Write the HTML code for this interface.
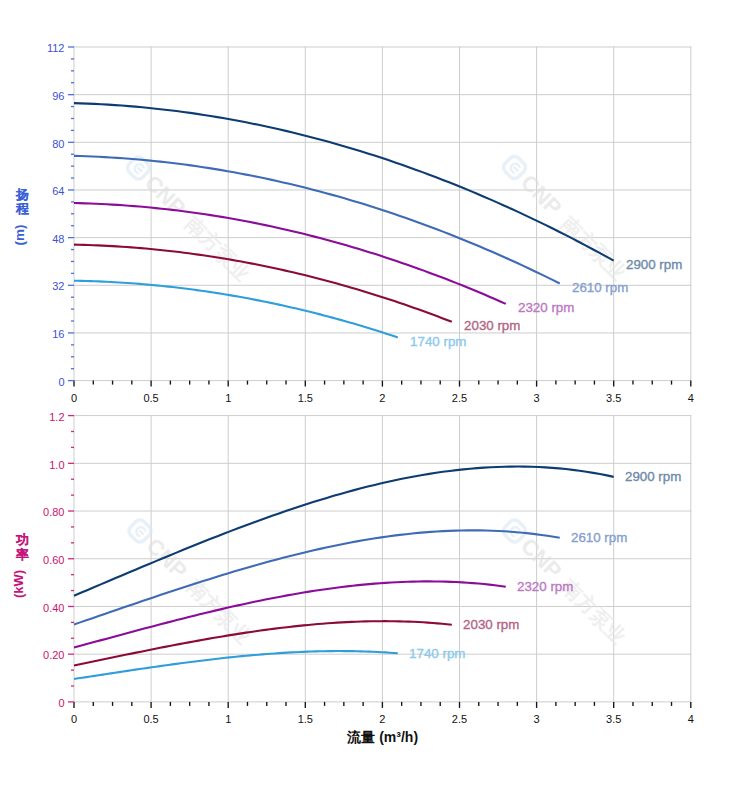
<!DOCTYPE html><html><head><meta charset="utf-8"><style>html,body{margin:0;padding:0;background:#fff;width:752px;height:797px;overflow:hidden}svg{display:block}text{font-family:"Liberation Sans",sans-serif}.lb{font-size:13.33px;stroke-width:0.35px}</style></head><body>
<svg width="752" height="797" viewBox="0 0 752 797">
<rect width="752" height="797" fill="#fff"/>
<g stroke="#cdcdcd" stroke-width="1"><line x1="74.00" y1="46.50" x2="74.00" y2="381.10"/><line x1="151.10" y1="46.50" x2="151.10" y2="381.10"/><line x1="228.20" y1="46.50" x2="228.20" y2="381.10"/><line x1="305.30" y1="46.50" x2="305.30" y2="381.10"/><line x1="382.40" y1="46.50" x2="382.40" y2="381.10"/><line x1="459.50" y1="46.50" x2="459.50" y2="381.10"/><line x1="536.60" y1="46.50" x2="536.60" y2="381.10"/><line x1="613.70" y1="46.50" x2="613.70" y2="381.10"/><line x1="690.80" y1="46.50" x2="690.80" y2="381.10"/><line x1="73.50" y1="380.60" x2="691.30" y2="380.60"/><line x1="73.50" y1="332.94" x2="691.30" y2="332.94"/><line x1="73.50" y1="285.29" x2="691.30" y2="285.29"/><line x1="73.50" y1="237.63" x2="691.30" y2="237.63"/><line x1="73.50" y1="189.97" x2="691.30" y2="189.97"/><line x1="73.50" y1="142.31" x2="691.30" y2="142.31"/><line x1="73.50" y1="94.66" x2="691.30" y2="94.66"/><line x1="73.50" y1="47.00" x2="691.30" y2="47.00"/><line x1="74.00" y1="415.10" x2="74.00" y2="702.40"/><line x1="151.10" y1="415.10" x2="151.10" y2="702.40"/><line x1="228.20" y1="415.10" x2="228.20" y2="702.40"/><line x1="305.30" y1="415.10" x2="305.30" y2="702.40"/><line x1="382.40" y1="415.10" x2="382.40" y2="702.40"/><line x1="459.50" y1="415.10" x2="459.50" y2="702.40"/><line x1="536.60" y1="415.10" x2="536.60" y2="702.40"/><line x1="613.70" y1="415.10" x2="613.70" y2="702.40"/><line x1="690.80" y1="415.10" x2="690.80" y2="702.40"/><line x1="73.50" y1="701.90" x2="691.30" y2="701.90"/><line x1="73.50" y1="654.18" x2="691.30" y2="654.18"/><line x1="73.50" y1="606.47" x2="691.30" y2="606.47"/><line x1="73.50" y1="558.75" x2="691.30" y2="558.75"/><line x1="73.50" y1="511.03" x2="691.30" y2="511.03"/><line x1="73.50" y1="463.32" x2="691.30" y2="463.32"/><line x1="73.50" y1="415.60" x2="691.30" y2="415.60"/></g>
<g transform="translate(138.5 168.0) rotate(45)" opacity="0.6"><rect x="-9.5" y="-9.5" width="19" height="19" rx="6" fill="none" stroke="#dae7f5" stroke-width="3.5"/><path d="M4 -3.5 A4.5 4.5 0 1 0 4 3.5 M-1 0 H5" fill="none" stroke="#dae7f5" stroke-width="2.5"/><text x="15" y="8" font-size="22" font-weight="bold" fill="#dedede">CNP</text><text x="73" y="8" font-size="20" font-weight="bold" fill="#e6e6e6">南方泵业</text></g>
<g transform="translate(514.5 167.5) rotate(45)" opacity="0.6"><rect x="-9.5" y="-9.5" width="19" height="19" rx="6" fill="none" stroke="#dae7f5" stroke-width="3.5"/><path d="M4 -3.5 A4.5 4.5 0 1 0 4 3.5 M-1 0 H5" fill="none" stroke="#dae7f5" stroke-width="2.5"/><text x="15" y="8" font-size="22" font-weight="bold" fill="#dedede">CNP</text><text x="73" y="8" font-size="20" font-weight="bold" fill="#e6e6e6">南方泵业</text></g>
<g transform="translate(140.0 531.0) rotate(45)" opacity="0.6"><rect x="-9.5" y="-9.5" width="19" height="19" rx="6" fill="none" stroke="#dae7f5" stroke-width="3.5"/><path d="M4 -3.5 A4.5 4.5 0 1 0 4 3.5 M-1 0 H5" fill="none" stroke="#dae7f5" stroke-width="2.5"/><text x="15" y="8" font-size="22" font-weight="bold" fill="#dedede">CNP</text><text x="73" y="8" font-size="20" font-weight="bold" fill="#e6e6e6">南方泵业</text></g>
<g transform="translate(514.5 531.0) rotate(45)" opacity="0.6"><rect x="-9.5" y="-9.5" width="19" height="19" rx="6" fill="none" stroke="#dae7f5" stroke-width="3.5"/><path d="M4 -3.5 A4.5 4.5 0 1 0 4 3.5 M-1 0 H5" fill="none" stroke="#dae7f5" stroke-width="2.5"/><text x="15" y="8" font-size="22" font-weight="bold" fill="#dedede">CNP</text><text x="73" y="8" font-size="20" font-weight="bold" fill="#e6e6e6">南方泵业</text></g>
<g stroke="#141414" stroke-width="1.35"><line x1="74.00" y1="380.60" x2="74.00" y2="386.60"/><line x1="93.28" y1="380.60" x2="93.28" y2="384.60"/><line x1="112.55" y1="380.60" x2="112.55" y2="384.60"/><line x1="131.82" y1="380.60" x2="131.82" y2="384.60"/><line x1="151.10" y1="380.60" x2="151.10" y2="386.60"/><line x1="170.38" y1="380.60" x2="170.38" y2="384.60"/><line x1="189.65" y1="380.60" x2="189.65" y2="384.60"/><line x1="208.92" y1="380.60" x2="208.92" y2="384.60"/><line x1="228.20" y1="380.60" x2="228.20" y2="386.60"/><line x1="247.47" y1="380.60" x2="247.47" y2="384.60"/><line x1="266.75" y1="380.60" x2="266.75" y2="384.60"/><line x1="286.02" y1="380.60" x2="286.02" y2="384.60"/><line x1="305.30" y1="380.60" x2="305.30" y2="386.60"/><line x1="324.57" y1="380.60" x2="324.57" y2="384.60"/><line x1="343.85" y1="380.60" x2="343.85" y2="384.60"/><line x1="363.12" y1="380.60" x2="363.12" y2="384.60"/><line x1="382.40" y1="380.60" x2="382.40" y2="386.60"/><line x1="401.67" y1="380.60" x2="401.67" y2="384.60"/><line x1="420.95" y1="380.60" x2="420.95" y2="384.60"/><line x1="440.22" y1="380.60" x2="440.22" y2="384.60"/><line x1="459.50" y1="380.60" x2="459.50" y2="386.60"/><line x1="478.77" y1="380.60" x2="478.77" y2="384.60"/><line x1="498.05" y1="380.60" x2="498.05" y2="384.60"/><line x1="517.33" y1="380.60" x2="517.33" y2="384.60"/><line x1="536.60" y1="380.60" x2="536.60" y2="386.60"/><line x1="555.88" y1="380.60" x2="555.88" y2="384.60"/><line x1="575.15" y1="380.60" x2="575.15" y2="384.60"/><line x1="594.42" y1="380.60" x2="594.42" y2="384.60"/><line x1="613.70" y1="380.60" x2="613.70" y2="386.60"/><line x1="632.97" y1="380.60" x2="632.97" y2="384.60"/><line x1="652.25" y1="380.60" x2="652.25" y2="384.60"/><line x1="671.52" y1="380.60" x2="671.52" y2="384.60"/><line x1="690.80" y1="380.60" x2="690.80" y2="386.60"/><line x1="74.00" y1="701.90" x2="74.00" y2="707.90"/><line x1="93.28" y1="701.90" x2="93.28" y2="705.90"/><line x1="112.55" y1="701.90" x2="112.55" y2="705.90"/><line x1="131.82" y1="701.90" x2="131.82" y2="705.90"/><line x1="151.10" y1="701.90" x2="151.10" y2="707.90"/><line x1="170.38" y1="701.90" x2="170.38" y2="705.90"/><line x1="189.65" y1="701.90" x2="189.65" y2="705.90"/><line x1="208.92" y1="701.90" x2="208.92" y2="705.90"/><line x1="228.20" y1="701.90" x2="228.20" y2="707.90"/><line x1="247.47" y1="701.90" x2="247.47" y2="705.90"/><line x1="266.75" y1="701.90" x2="266.75" y2="705.90"/><line x1="286.02" y1="701.90" x2="286.02" y2="705.90"/><line x1="305.30" y1="701.90" x2="305.30" y2="707.90"/><line x1="324.57" y1="701.90" x2="324.57" y2="705.90"/><line x1="343.85" y1="701.90" x2="343.85" y2="705.90"/><line x1="363.12" y1="701.90" x2="363.12" y2="705.90"/><line x1="382.40" y1="701.90" x2="382.40" y2="707.90"/><line x1="401.67" y1="701.90" x2="401.67" y2="705.90"/><line x1="420.95" y1="701.90" x2="420.95" y2="705.90"/><line x1="440.22" y1="701.90" x2="440.22" y2="705.90"/><line x1="459.50" y1="701.90" x2="459.50" y2="707.90"/><line x1="478.77" y1="701.90" x2="478.77" y2="705.90"/><line x1="498.05" y1="701.90" x2="498.05" y2="705.90"/><line x1="517.33" y1="701.90" x2="517.33" y2="705.90"/><line x1="536.60" y1="701.90" x2="536.60" y2="707.90"/><line x1="555.88" y1="701.90" x2="555.88" y2="705.90"/><line x1="575.15" y1="701.90" x2="575.15" y2="705.90"/><line x1="594.42" y1="701.90" x2="594.42" y2="705.90"/><line x1="613.70" y1="701.90" x2="613.70" y2="707.90"/><line x1="632.97" y1="701.90" x2="632.97" y2="705.90"/><line x1="652.25" y1="701.90" x2="652.25" y2="705.90"/><line x1="671.52" y1="701.90" x2="671.52" y2="705.90"/><line x1="690.80" y1="701.90" x2="690.80" y2="707.90"/></g>
<g stroke="#4d6fe0" stroke-width="1.3"><line x1="68.00" y1="380.60" x2="74.00" y2="380.60"/><line x1="71.00" y1="368.69" x2="74.00" y2="368.69"/><line x1="71.00" y1="356.77" x2="74.00" y2="356.77"/><line x1="71.00" y1="344.86" x2="74.00" y2="344.86"/><line x1="68.00" y1="332.94" x2="74.00" y2="332.94"/><line x1="71.00" y1="321.03" x2="74.00" y2="321.03"/><line x1="71.00" y1="309.11" x2="74.00" y2="309.11"/><line x1="71.00" y1="297.20" x2="74.00" y2="297.20"/><line x1="68.00" y1="285.29" x2="74.00" y2="285.29"/><line x1="71.00" y1="273.37" x2="74.00" y2="273.37"/><line x1="71.00" y1="261.46" x2="74.00" y2="261.46"/><line x1="71.00" y1="249.54" x2="74.00" y2="249.54"/><line x1="68.00" y1="237.63" x2="74.00" y2="237.63"/><line x1="71.00" y1="225.71" x2="74.00" y2="225.71"/><line x1="71.00" y1="213.80" x2="74.00" y2="213.80"/><line x1="71.00" y1="201.89" x2="74.00" y2="201.89"/><line x1="68.00" y1="189.97" x2="74.00" y2="189.97"/><line x1="71.00" y1="178.06" x2="74.00" y2="178.06"/><line x1="71.00" y1="166.14" x2="74.00" y2="166.14"/><line x1="71.00" y1="154.23" x2="74.00" y2="154.23"/><line x1="68.00" y1="142.31" x2="74.00" y2="142.31"/><line x1="71.00" y1="130.40" x2="74.00" y2="130.40"/><line x1="71.00" y1="118.49" x2="74.00" y2="118.49"/><line x1="71.00" y1="106.57" x2="74.00" y2="106.57"/><line x1="68.00" y1="94.66" x2="74.00" y2="94.66"/><line x1="71.00" y1="82.74" x2="74.00" y2="82.74"/><line x1="71.00" y1="70.83" x2="74.00" y2="70.83"/><line x1="71.00" y1="58.91" x2="74.00" y2="58.91"/><line x1="68.00" y1="47.00" x2="74.00" y2="47.00"/></g>
<g stroke="#d0287e" stroke-width="1.3"><line x1="68.00" y1="701.90" x2="74.00" y2="701.90"/><line x1="71.00" y1="685.99" x2="74.00" y2="685.99"/><line x1="71.00" y1="670.09" x2="74.00" y2="670.09"/><line x1="68.00" y1="654.18" x2="74.00" y2="654.18"/><line x1="71.00" y1="638.28" x2="74.00" y2="638.28"/><line x1="71.00" y1="622.37" x2="74.00" y2="622.37"/><line x1="68.00" y1="606.47" x2="74.00" y2="606.47"/><line x1="71.00" y1="590.56" x2="74.00" y2="590.56"/><line x1="71.00" y1="574.66" x2="74.00" y2="574.66"/><line x1="68.00" y1="558.75" x2="74.00" y2="558.75"/><line x1="71.00" y1="542.84" x2="74.00" y2="542.84"/><line x1="71.00" y1="526.94" x2="74.00" y2="526.94"/><line x1="68.00" y1="511.03" x2="74.00" y2="511.03"/><line x1="71.00" y1="495.13" x2="74.00" y2="495.13"/><line x1="71.00" y1="479.22" x2="74.00" y2="479.22"/><line x1="68.00" y1="463.32" x2="74.00" y2="463.32"/><line x1="71.00" y1="447.41" x2="74.00" y2="447.41"/><line x1="71.00" y1="431.51" x2="74.00" y2="431.51"/><line x1="68.00" y1="415.60" x2="74.00" y2="415.60"/></g>
<g font-size="11" fill="#111"><text x="74.00" y="402.00" text-anchor="middle">0</text><text x="151.10" y="402.00" text-anchor="middle">0.5</text><text x="228.20" y="402.00" text-anchor="middle">1</text><text x="305.30" y="402.00" text-anchor="middle">1.5</text><text x="382.40" y="402.00" text-anchor="middle">2</text><text x="459.50" y="402.00" text-anchor="middle">2.5</text><text x="536.60" y="402.00" text-anchor="middle">3</text><text x="613.70" y="402.00" text-anchor="middle">3.5</text><text x="690.80" y="402.00" text-anchor="middle">4</text><text x="74.00" y="723.30" text-anchor="middle">0</text><text x="151.10" y="723.30" text-anchor="middle">0.5</text><text x="228.20" y="723.30" text-anchor="middle">1</text><text x="305.30" y="723.30" text-anchor="middle">1.5</text><text x="382.40" y="723.30" text-anchor="middle">2</text><text x="459.50" y="723.30" text-anchor="middle">2.5</text><text x="536.60" y="723.30" text-anchor="middle">3</text><text x="613.70" y="723.30" text-anchor="middle">3.5</text><text x="690.80" y="723.30" text-anchor="middle">4</text></g>
<g font-size="11" fill="#3c52d2"><text x="64.5" y="385.80" text-anchor="end">0</text><text x="64.5" y="338.14" text-anchor="end">16</text><text x="64.5" y="290.49" text-anchor="end">32</text><text x="64.5" y="242.83" text-anchor="end">48</text><text x="64.5" y="195.17" text-anchor="end">64</text><text x="64.5" y="147.51" text-anchor="end">80</text><text x="64.5" y="99.86" text-anchor="end">96</text><text x="64.5" y="52.20" text-anchor="end">112</text></g>
<g font-size="11" fill="#c8146c"><text x="64.5" y="707.10" text-anchor="end">0</text><text x="64.5" y="659.38" text-anchor="end">0.20</text><text x="64.5" y="611.67" text-anchor="end">0.40</text><text x="64.5" y="563.95" text-anchor="end">0.60</text><text x="64.5" y="516.23" text-anchor="end">0.80</text><text x="64.5" y="468.52" text-anchor="end">1.0</text><text x="64.5" y="420.80" text-anchor="end">1.2</text></g>
<path d="M74.00 103.16 L80.83 103.37 L87.66 103.62 L94.49 103.92 L101.33 104.26 L108.16 104.65 L114.99 105.09 L121.82 105.57 L128.65 106.10 L135.48 106.67 L142.32 107.29 L149.15 107.96 L155.98 108.67 L162.81 109.43 L169.64 110.23 L176.47 111.08 L183.31 111.97 L190.14 112.91 L196.97 113.90 L203.80 114.93 L210.63 116.01 L217.46 117.13 L224.30 118.30 L231.13 119.51 L237.96 120.78 L244.79 122.08 L251.62 123.43 L258.45 124.83 L265.29 126.28 L272.12 127.77 L278.95 129.30 L285.78 130.88 L292.61 132.51 L299.44 134.18 L306.28 135.90 L313.11 137.67 L319.94 139.48 L326.77 141.33 L333.60 143.24 L340.43 145.19 L347.27 147.18 L354.10 149.22 L360.93 151.30 L367.76 153.44 L374.59 155.61 L381.42 157.83 L388.26 160.10 L395.09 162.42 L401.92 164.78 L408.75 167.18 L415.58 169.64 L422.41 172.13 L429.25 174.68 L436.08 177.27 L442.91 179.90 L449.74 182.58 L456.57 185.31 L463.40 188.08 L470.24 190.90 L477.07 193.76 L483.90 196.67 L490.73 199.63 L497.56 202.63 L504.39 205.68 L511.23 208.77 L518.06 211.91 L524.89 215.10 L531.72 218.33 L538.55 221.60 L545.38 224.93 L552.22 228.29 L559.05 231.71 L565.88 235.17 L572.71 238.67 L579.54 242.23 L586.37 245.82 L593.21 249.47 L600.04 253.15 L606.87 256.89 L613.70 260.67" fill="none" stroke="#0c3c72" stroke-width="2.1" stroke-linejoin="round"/>
<text x="626.00" y="268.87" class="lb" fill="#6d8aa9" stroke="#6d8aa9">2900 rpm</text>
<path d="M74.00 155.87 L80.15 156.04 L86.30 156.25 L92.45 156.49 L98.59 156.77 L104.74 157.08 L110.89 157.44 L117.04 157.83 L123.19 158.25 L129.34 158.72 L135.48 159.22 L141.63 159.76 L147.78 160.34 L153.93 160.95 L160.08 161.60 L166.23 162.29 L172.38 163.01 L178.52 163.77 L184.67 164.57 L190.82 165.41 L196.97 166.28 L203.12 167.19 L209.27 168.14 L215.42 169.12 L221.56 170.14 L227.71 171.20 L233.86 172.30 L240.01 173.43 L246.16 174.60 L252.31 175.81 L258.45 177.05 L264.60 178.33 L270.75 179.65 L276.90 181.00 L283.05 182.40 L289.20 183.83 L295.35 185.29 L301.49 186.80 L307.64 188.34 L313.79 189.91 L319.94 191.53 L326.09 193.18 L332.24 194.87 L338.38 196.60 L344.53 198.36 L350.68 200.16 L356.83 202.00 L362.98 203.87 L369.13 205.78 L375.28 207.73 L381.42 209.72 L387.57 211.74 L393.72 213.80 L399.87 215.90 L406.02 218.03 L412.17 220.21 L418.31 222.41 L424.46 224.66 L430.61 226.94 L436.76 229.26 L442.91 231.62 L449.06 234.01 L455.21 236.45 L461.35 238.91 L467.50 241.42 L473.65 243.96 L479.80 246.54 L485.95 249.16 L492.10 251.81 L498.25 254.50 L504.39 257.23 L510.54 260.00 L516.69 262.80 L522.84 265.64 L528.99 268.52 L535.14 271.43 L541.28 274.38 L547.43 277.37 L553.58 280.39 L559.73 283.46" fill="none" stroke="#3f6bb6" stroke-width="2.1" stroke-linejoin="round"/>
<text x="572.03" y="291.66" class="lb" fill="#84a0cf" stroke="#84a0cf">2610 rpm</text>
<path d="M74.00 203.04 L79.47 203.17 L84.93 203.33 L90.40 203.52 L95.86 203.74 L101.33 203.99 L106.79 204.27 L112.26 204.58 L117.72 204.92 L123.19 205.29 L128.65 205.68 L134.12 206.11 L139.58 206.56 L145.05 207.05 L150.51 207.56 L155.98 208.11 L161.45 208.68 L166.91 209.28 L172.38 209.91 L177.84 210.57 L183.31 211.26 L188.77 211.98 L194.24 212.73 L199.70 213.51 L205.17 214.31 L210.63 215.15 L216.10 216.01 L221.56 216.91 L227.03 217.83 L232.49 218.79 L237.96 219.77 L243.42 220.78 L248.89 221.82 L254.36 222.89 L259.82 223.99 L265.29 225.12 L270.75 226.28 L276.22 227.47 L281.68 228.69 L287.15 229.93 L292.61 231.21 L298.08 232.52 L303.54 233.85 L309.01 235.21 L314.47 236.61 L319.94 238.03 L325.40 239.48 L330.87 240.96 L336.34 242.47 L341.80 244.01 L347.27 245.58 L352.73 247.18 L358.20 248.81 L363.66 250.47 L369.13 252.15 L374.59 253.87 L380.06 255.61 L385.52 257.39 L390.99 259.19 L396.45 261.03 L401.92 262.89 L407.38 264.78 L412.85 266.70 L418.31 268.65 L423.78 270.63 L429.25 272.64 L434.71 274.68 L440.18 276.75 L445.64 278.84 L451.11 280.97 L456.57 283.12 L462.04 285.31 L467.50 287.52 L472.97 289.77 L478.43 292.04 L483.90 294.34 L489.36 296.67 L494.83 299.03 L500.29 301.42 L505.76 303.84" fill="none" stroke="#8b0c99" stroke-width="2.1" stroke-linejoin="round"/>
<text x="518.06" y="312.04" class="lb" fill="#bb78c4" stroke="#bb78c4">2320 rpm</text>
<path d="M74.00 244.65 L78.78 244.76 L83.56 244.88 L88.35 245.03 L93.13 245.19 L97.91 245.39 L102.69 245.60 L107.48 245.84 L112.26 246.09 L117.04 246.38 L121.82 246.68 L126.60 247.01 L131.39 247.35 L136.17 247.72 L140.95 248.12 L145.73 248.53 L150.51 248.97 L155.30 249.43 L160.08 249.92 L164.86 250.42 L169.64 250.95 L174.43 251.50 L179.21 252.07 L183.99 252.67 L188.77 253.29 L193.55 253.93 L198.34 254.59 L203.12 255.27 L207.90 255.98 L212.68 256.71 L217.46 257.46 L222.25 258.24 L227.03 259.04 L231.81 259.86 L236.59 260.70 L241.38 261.56 L246.16 262.45 L250.94 263.36 L255.72 264.29 L260.50 265.25 L265.29 266.22 L270.07 267.22 L274.85 268.24 L279.63 269.29 L284.41 270.36 L289.20 271.45 L293.98 272.56 L298.76 273.69 L303.54 274.85 L308.33 276.03 L313.11 277.23 L317.89 278.45 L322.67 279.70 L327.45 280.97 L332.24 282.26 L337.02 283.57 L341.80 284.91 L346.58 286.27 L351.36 287.65 L356.15 289.05 L360.93 290.48 L365.71 291.93 L370.49 293.40 L375.28 294.89 L380.06 296.40 L384.84 297.94 L389.62 299.50 L394.40 301.09 L399.19 302.69 L403.97 304.32 L408.75 305.97 L413.53 307.64 L418.31 309.34 L423.10 311.06 L427.88 312.80 L432.66 314.56 L437.44 316.34 L442.23 318.15 L447.01 319.98 L451.79 321.83" fill="none" stroke="#8c0a3a" stroke-width="2.1" stroke-linejoin="round"/>
<text x="464.09" y="330.03" class="lb" fill="#b26585" stroke="#b26585">2030 rpm</text>
<path d="M74.00 280.72 L78.10 280.80 L82.20 280.89 L86.30 280.99 L90.40 281.12 L94.49 281.26 L98.59 281.42 L102.69 281.59 L106.79 281.78 L110.89 281.99 L114.99 282.21 L119.09 282.45 L123.19 282.70 L127.29 282.98 L131.39 283.27 L135.48 283.57 L139.58 283.89 L143.68 284.23 L147.78 284.59 L151.88 284.96 L155.98 285.35 L160.08 285.75 L164.18 286.17 L168.28 286.61 L172.38 287.06 L176.47 287.53 L180.57 288.02 L184.67 288.52 L188.77 289.04 L192.87 289.58 L196.97 290.13 L201.07 290.70 L205.17 291.29 L209.27 291.89 L213.37 292.51 L217.46 293.14 L221.56 293.80 L225.66 294.46 L229.76 295.15 L233.86 295.85 L237.96 296.57 L242.06 297.30 L246.16 298.05 L250.26 298.82 L254.36 299.60 L258.45 300.40 L262.55 301.22 L266.65 302.05 L270.75 302.90 L274.85 303.77 L278.95 304.65 L283.05 305.55 L287.15 306.47 L291.25 307.40 L295.35 308.35 L299.44 309.31 L303.54 310.30 L307.64 311.29 L311.74 312.31 L315.84 313.34 L319.94 314.39 L324.04 315.45 L328.14 316.53 L332.24 317.63 L336.34 318.74 L340.43 319.87 L344.53 321.02 L348.63 322.18 L352.73 323.36 L356.83 324.56 L360.93 325.77 L365.03 327.00 L369.13 328.24 L373.23 329.51 L377.33 330.79 L381.42 332.08 L385.52 333.39 L389.62 334.72 L393.72 336.06 L397.82 337.42" fill="none" stroke="#2f9edb" stroke-width="2.1" stroke-linejoin="round"/>
<text x="410.12" y="345.62" class="lb" fill="#8dc9ec" stroke="#8dc9ec">1740 rpm</text>
<path d="M74.00 595.68 L80.83 592.80 L87.66 589.91 L94.49 587.02 L101.33 584.13 L108.16 581.23 L114.99 578.34 L121.82 575.45 L128.65 572.56 L135.48 569.68 L142.32 566.81 L149.15 563.95 L155.98 561.10 L162.81 558.26 L169.64 555.43 L176.47 552.62 L183.31 549.83 L190.14 547.05 L196.97 544.30 L203.80 541.56 L210.63 538.85 L217.46 536.17 L224.30 533.51 L231.13 530.88 L237.96 528.28 L244.79 525.71 L251.62 523.17 L258.45 520.67 L265.29 518.21 L272.12 515.78 L278.95 513.39 L285.78 511.04 L292.61 508.73 L299.44 506.47 L306.28 504.25 L313.11 502.08 L319.94 499.95 L326.77 497.88 L333.60 495.86 L340.43 493.89 L347.27 491.98 L354.10 490.12 L360.93 488.32 L367.76 486.58 L374.59 484.91 L381.42 483.29 L388.26 481.74 L395.09 480.25 L401.92 478.83 L408.75 477.48 L415.58 476.21 L422.41 475.00 L429.25 473.87 L436.08 472.81 L442.91 471.83 L449.74 470.92 L456.57 470.10 L463.40 469.36 L470.24 468.70 L477.07 468.13 L483.90 467.64 L490.73 467.24 L497.56 466.93 L504.39 466.71 L511.23 466.58 L518.06 466.55 L524.89 466.61 L531.72 466.77 L538.55 467.03 L545.38 467.39 L552.22 467.85 L559.05 468.41 L565.88 469.08 L572.71 469.86 L579.54 470.75 L586.37 471.74 L593.21 472.85 L600.04 474.06 L606.87 475.40 L613.70 476.85" fill="none" stroke="#0c3c72" stroke-width="2.1" stroke-linejoin="round"/>
<text x="625.00" y="481.15" class="lb" fill="#6d8aa9" stroke="#6d8aa9">2900 rpm</text>
<path d="M74.00 624.47 L80.15 622.37 L86.30 620.26 L92.45 618.15 L98.59 616.04 L104.74 613.93 L110.89 611.82 L117.04 609.72 L123.19 607.61 L129.34 605.51 L135.48 603.42 L141.63 601.33 L147.78 599.25 L153.93 597.18 L160.08 595.12 L166.23 593.07 L172.38 591.04 L178.52 589.02 L184.67 587.01 L190.82 585.02 L196.97 583.04 L203.12 581.08 L209.27 579.14 L215.42 577.23 L221.56 575.33 L227.71 573.46 L233.86 571.61 L240.01 569.78 L246.16 567.99 L252.31 566.22 L258.45 564.47 L264.60 562.76 L270.75 561.08 L276.90 559.43 L283.05 557.81 L289.20 556.23 L295.35 554.68 L301.49 553.17 L307.64 551.70 L313.79 550.26 L319.94 548.87 L326.09 547.51 L332.24 546.20 L338.38 544.93 L344.53 543.71 L350.68 542.53 L356.83 541.40 L362.98 540.32 L369.13 539.28 L375.28 538.30 L381.42 537.37 L387.57 536.49 L393.72 535.66 L399.87 534.89 L406.02 534.18 L412.17 533.52 L418.31 532.92 L424.46 532.38 L430.61 531.90 L436.76 531.48 L442.91 531.12 L449.06 530.83 L455.21 530.61 L461.35 530.45 L467.50 530.35 L473.65 530.33 L479.80 530.37 L485.95 530.49 L492.10 530.68 L498.25 530.94 L504.39 531.28 L510.54 531.69 L516.69 532.18 L522.84 532.74 L528.99 533.39 L535.14 534.11 L541.28 534.92 L547.43 535.81 L553.58 536.78 L559.73 537.84" fill="none" stroke="#3f6bb6" stroke-width="2.1" stroke-linejoin="round"/>
<text x="571.03" y="542.14" class="lb" fill="#84a0cf" stroke="#84a0cf">2610 rpm</text>
<path d="M74.00 647.52 L79.47 646.04 L84.93 644.56 L90.40 643.08 L95.86 641.60 L101.33 640.12 L106.79 638.64 L112.26 637.16 L117.72 635.68 L123.19 634.21 L128.65 632.73 L134.12 631.27 L139.58 629.81 L145.05 628.35 L150.51 626.91 L155.98 625.47 L161.45 624.04 L166.91 622.62 L172.38 621.21 L177.84 619.81 L183.31 618.42 L188.77 617.05 L194.24 615.68 L199.70 614.34 L205.17 613.01 L210.63 611.69 L216.10 610.39 L221.56 609.11 L227.03 607.85 L232.49 606.60 L237.96 605.38 L243.42 604.18 L248.89 603.00 L254.36 601.84 L259.82 600.70 L265.29 599.59 L270.75 598.50 L276.22 597.44 L281.68 596.41 L287.15 595.40 L292.61 594.42 L298.08 593.47 L303.54 592.55 L309.01 591.66 L314.47 590.80 L319.94 589.97 L325.40 589.18 L330.87 588.42 L336.34 587.69 L341.80 587.00 L347.27 586.34 L352.73 585.73 L358.20 585.15 L363.66 584.60 L369.13 584.10 L374.59 583.64 L380.06 583.22 L385.52 582.84 L390.99 582.50 L396.45 582.21 L401.92 581.96 L407.38 581.75 L412.85 581.59 L418.31 581.48 L423.78 581.42 L429.25 581.40 L434.71 581.43 L440.18 581.51 L445.64 581.65 L451.11 581.83 L456.57 582.07 L462.04 582.36 L467.50 582.70 L472.97 583.10 L478.43 583.55 L483.90 584.06 L489.36 584.62 L494.83 585.25 L500.29 585.93 L505.76 586.67" fill="none" stroke="#8b0c99" stroke-width="2.1" stroke-linejoin="round"/>
<text x="517.06" y="590.97" class="lb" fill="#bb78c4" stroke="#bb78c4">2320 rpm</text>
<path d="M74.00 665.47 L78.78 664.48 L83.56 663.49 L88.35 662.50 L93.13 661.50 L97.91 660.51 L102.69 659.52 L107.48 658.53 L112.26 657.54 L117.04 656.55 L121.82 655.56 L126.60 654.58 L131.39 653.60 L136.17 652.63 L140.95 651.66 L145.73 650.70 L150.51 649.74 L155.30 648.79 L160.08 647.84 L164.86 646.90 L169.64 645.98 L174.43 645.05 L179.21 644.14 L183.99 643.24 L188.77 642.35 L193.55 641.47 L198.34 640.60 L203.12 639.74 L207.90 638.89 L212.68 638.06 L217.46 637.24 L222.25 636.43 L227.03 635.64 L231.81 634.87 L236.59 634.11 L241.38 633.36 L246.16 632.63 L250.94 631.92 L255.72 631.23 L260.50 630.55 L265.29 629.90 L270.07 629.26 L274.85 628.64 L279.63 628.05 L284.41 627.47 L289.20 626.92 L293.98 626.38 L298.76 625.87 L303.54 625.39 L308.33 624.93 L313.11 624.49 L317.89 624.07 L322.67 623.68 L327.45 623.32 L332.24 622.98 L337.02 622.67 L341.80 622.39 L346.58 622.14 L351.36 621.91 L356.15 621.72 L360.93 621.55 L365.71 621.41 L370.49 621.30 L375.28 621.23 L380.06 621.19 L384.84 621.17 L389.62 621.20 L394.40 621.25 L399.19 621.34 L403.97 621.46 L408.75 621.62 L413.53 621.81 L418.31 622.04 L423.10 622.31 L427.88 622.61 L432.66 622.96 L437.44 623.33 L442.23 623.75 L447.01 624.21 L451.79 624.71" fill="none" stroke="#8c0a3a" stroke-width="2.1" stroke-linejoin="round"/>
<text x="463.09" y="629.01" class="lb" fill="#b26585" stroke="#b26585">2030 rpm</text>
<path d="M74.00 678.96 L78.10 678.33 L82.20 677.71 L86.30 677.09 L90.40 676.46 L94.49 675.84 L98.59 675.21 L102.69 674.59 L106.79 673.96 L110.89 673.34 L114.99 672.72 L119.09 672.10 L123.19 671.49 L127.29 670.87 L131.39 670.26 L135.48 669.66 L139.58 669.05 L143.68 668.45 L147.78 667.86 L151.88 667.27 L155.98 666.68 L160.08 666.10 L164.18 665.53 L168.28 664.96 L172.38 664.40 L176.47 663.84 L180.57 663.30 L184.67 662.75 L188.77 662.22 L192.87 661.70 L196.97 661.18 L201.07 660.67 L205.17 660.18 L209.27 659.69 L213.37 659.21 L217.46 658.74 L221.56 658.28 L225.66 657.83 L229.76 657.40 L233.86 656.97 L237.96 656.56 L242.06 656.16 L246.16 655.77 L250.26 655.39 L254.36 655.03 L258.45 654.68 L262.55 654.35 L266.65 654.02 L270.75 653.72 L274.85 653.43 L278.95 653.15 L283.05 652.89 L287.15 652.64 L291.25 652.42 L295.35 652.20 L299.44 652.01 L303.54 651.83 L307.64 651.67 L311.74 651.53 L315.84 651.40 L319.94 651.30 L324.04 651.21 L328.14 651.15 L332.24 651.10 L336.34 651.07 L340.43 651.06 L344.53 651.08 L348.63 651.11 L352.73 651.17 L356.83 651.25 L360.93 651.35 L365.03 651.47 L369.13 651.61 L373.23 651.78 L377.33 651.97 L381.42 652.19 L385.52 652.42 L389.62 652.69 L393.72 652.98 L397.82 653.29" fill="none" stroke="#2f9edb" stroke-width="2.1" stroke-linejoin="round"/>
<text x="409.12" y="657.59" class="lb" fill="#8dc9ec" stroke="#8dc9ec">1740 rpm</text>
<g font-weight="bold" fill="#3a5fd8"><text x="22" y="198.5" text-anchor="middle" font-size="12.5" stroke="#3a5fd8" stroke-width="0.12">扬</text><text x="22" y="213" text-anchor="middle" font-size="12.5" stroke="#3a5fd8" stroke-width="0.12">程</text><text transform="translate(24.3 235) rotate(-90)" text-anchor="middle" font-size="13.5">(m)</text></g>
<g font-weight="bold" fill="#c4147a"><text x="22" y="544" text-anchor="middle" font-size="12.5" stroke="#c4147a" stroke-width="0.12">功</text><text x="22" y="558.5" text-anchor="middle" font-size="12.5" stroke="#c4147a" stroke-width="0.12">率</text><text transform="translate(22.7 584) rotate(-90)" text-anchor="middle" font-size="13">(kW)</text></g>
<text x="382.7" y="742.3" font-size="14" font-weight="bold" fill="#111" text-anchor="middle">流量 (m³/h)</text>
</svg></body></html>
